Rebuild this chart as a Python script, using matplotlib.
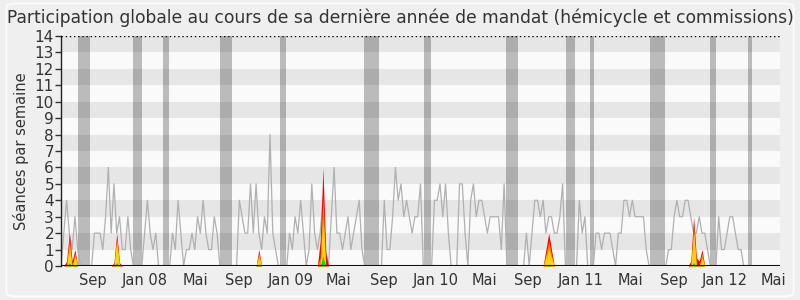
import numpy as np
import matplotlib
matplotlib.use("Agg")
import matplotlib.pyplot as plt
from matplotlib.patches import FancyBboxPatch

# ---- data (weekly index) ----
gray = [0,2,4,2,1,3,1,0,0,0,
        0,0,2,2,2,1,3,6,2,5,
        2,3,1,1,3,1,0,0,0,0,
        2,4,2,1,2,0,0,0,0,0,
        2,1,4,2,0,1,1,2,1,3,
        2,4,2,1,1,3,2,0,0,0,
        0,0,0,0,4,3,2,2,5,2,
        5,2,1,3,2,8,2,1,0,0,
        0,0,2,1,3,2,4,2,0,1,
        5,2,1,2,4,1,0,3,6,2,
        2,1,2,3,1,2,3,4,1,0,
        0,0,0,0,0,0,4,1,1,3,
        6,4,5,3,4,3,2,3,3,5,
        0,0,0,0,4,4,5,3,5,2,
        0,0,0,5,5,2,0,4,5,3,
        4,4,3,2,3,3,3,3,1,5,
        0,0,0,0,0,0,0,2,0,2,
        4,4,3,4,2,3,3,2,2,3,
        5,0,0,0,0,0,4,2,3,0,
        0,0,2,2,1,2,2,2,1,0,
        2,2,4,4,3,4,3,3,3,3,
        1,0,0,0,0,0,0,0,1,1,
        3,4,3,3,4,4,3,2,2,3,
        2,2,1,0,0,0,3,1,1,2,
        3,3,2,1,1,0,0,0,0,0,
        0,0,0,0,0,0,0,0,0]

red_weeks = [2, 3, 4, 5, 19, 20, 21, 71, 93, 94, 95, 174, 175, 176, 226, 227, 228, 229, 230]
red_vals  = [0.3, 2, 0.3, 1, 0.2, 2, 0.2, 1, 1.5, 6, 0.8, 1, 2, 1, 0.3, 3, 0.5, 0.3, 1]
orange_weeks = [3, 5, 20, 71, 93, 94, 174, 175, 176, 227, 230]
orange_vals  = [1.6, 0.8, 1.7, 0.8, 0.5, 4.2, 0.7, 1.5, 0.7, 2.5, 0.8]
yellow_weeks = [3, 5, 20, 71, 94, 174, 175, 176, 227, 230]
yellow_vals  = [1.2, 0.6, 1.5, 0.6, 3.0, 0.5, 1.0, 0.5, 2.0, 0.5]
green_weeks = [3, 5, 20, 71, 94, 175, 227, 230]
green_vals  = [0.2, 0.1, 0.2, 0.1, 0.6, 0.1, 0.2, 0.05]

vac_start = [6.1, 25.8, 36.6, 57.1, 78.6, 108.7, 130.2, 159.7, 181.2, 189.8, 211.3, 232.9, 246.5]
vac_end   = [10.4, 29.1, 38.8, 61.4, 80.7, 114.1, 132.8, 164.0, 184.4, 191.2, 216.7, 235.0, 248.0]

tick_weeks  = [11.5, 30.1, 48.1, 63.9, 82.5, 99.7, 115.9, 134.6, 152.1, 167.6, 186.6, 204.2, 220.0, 238.2, 255.8]
tick_labels = ['Sep', 'Jan 08', 'Mai', 'Sep', 'Jan 09', 'Mai', 'Sep', 'Jan 10', 'Mai',
               'Sep', 'Jan 11', 'Mai', 'Sep', 'Jan 12', 'Mai']

title = "Participation globale au cours de sa dernière année de mandat (hémicycle et commissions)"
ylabel = "Séances par semaine"

# ---- build ----
n = len(gray)
weeks = np.arange(n)

def series(ws, vs):
    a = np.zeros(n)
    a[np.array(ws)] = vs
    return a

red = series(red_weeks, red_vals)
orange = series(orange_weeks, orange_vals)
yellow = series(yellow_weeks, yellow_vals)
green = series(green_weeks, green_vals)

plt.rcParams['font.family'] = ['DejaVu Sans']
fig = plt.figure(figsize=(8, 3), dpi=100, facecolor='#efefef')
frame = FancyBboxPatch((0.008, 0.012), 0.984, 0.976, boxstyle="round,pad=0,rounding_size=0.012",
                       transform=fig.transFigure, facecolor='none', edgecolor='#fbfbfb', lw=1.5)
fig.patches.append(frame)

ax = fig.add_axes([0.07625, 0.1133, 0.89875, 0.7667])
ymax = 14
ax.set_xlim(0, n - 1)
ax.set_ylim(0, ymax)

# stripes
for k in range(ymax):
    ax.axhspan(k, k + 1, color='#e6e6e6' if k % 2 == 1 else '#fafafa', lw=0, zorder=0)

# vacations
for s, e in zip(vac_start, vac_end):
    ax.axvspan(s, e, color='black', alpha=0.25, lw=0, zorder=1)

ax.plot(weeks, gray, color='#b0b0b0', lw=0.9, zorder=2)
ax.fill_between(weeks, 0, red, color='#ff0000', lw=0, zorder=3)
ax.fill_between(weeks, 0, orange, color='#ff8c00', lw=0, zorder=4)
ax.fill_between(weeks, 0, yellow, color='#ffd700', lw=0, zorder=5)
ax.fill_between(weeks, 0, green, color='#00e000', lw=0, zorder=6)

ax.axhline(ymax, color='black', lw=1, ls=(0, (1, 2)), zorder=7)
ax.axhline(0, color='#2a0a00', lw=1.5, zorder=8)

for sp in ['top', 'right', 'bottom']:
    ax.spines[sp].set_visible(False)
ax.spines['left'].set_color('#222222')
ax.spines['left'].set_linewidth(1)

ax.set_yticks(range(ymax + 1))
ax.tick_params(axis='y', direction='out', length=4, width=1, pad=1, labelsize=11, colors='#333333')
ax.set_xticks(tick_weeks)
ax.set_xticklabels(tick_labels)
ax.tick_params(axis='x', length=0, pad=5, labelsize=10.5, colors='#333333')
ax.set_ylabel(ylabel, fontsize=10.5, color='#333333', labelpad=4)

fig.text(0.5, 0.94, title, ha='center', va='center', fontsize=12.3, color='#333333')

fig.savefig('out.png', dpi=100, facecolor=fig.get_facecolor())
